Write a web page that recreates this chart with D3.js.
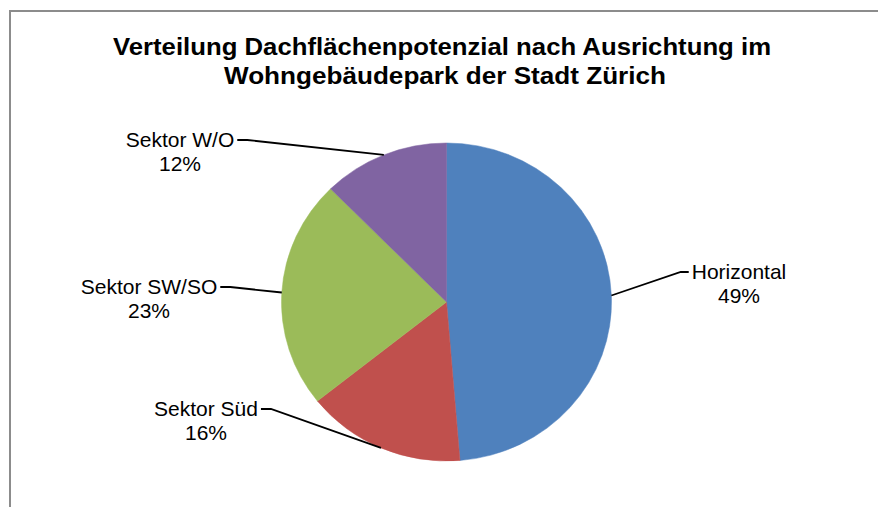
<!DOCTYPE html>
<html>
<head>
<meta charset="utf-8">
<script src="https://cdn.jsdelivr.net/npm/d3@7"></script>
<style>
  body { margin: 0; background: #fff; }
  svg { display: block; }
</style>
</head>
<body>
<div class="canvas"></div>
<script>
// data
const categories = ["Horizontal", "Sektor Süd", "Sektor SW/SO", "Sektor W/O"];
const shares = [48.7, 15.6, 23.3, 12.4];
const colors = ["#4F81BD", "#C0504D", "#9BBB59", "#8064A2"];
const titleLines = [
  "Verteilung Dachflächenpotenzial nach Ausrichtung im",
  "Wohngebäudepark der Stadt Zürich"
];

const dims = { width: 878, height: 507 };
const cent = { x: 446.5, y: 302 };
const rad = { x: 165, y: 159 };

// label anchor (centre of first text line's baseline) per slice, in px
const labelPos = [
  { x: 739, y: 279, side: "right" },
  { x: 206, y: 416, side: "left" },
  { x: 149, y: 294, side: "left" },
  { x: 180, y: 147, side: "left" }
];

const svg = d3
  .select(".canvas")
  .append("svg")
  .attr("width", dims.width)
  .attr("height", dims.height);

// chart border (right / bottom run off the picture)
svg
  .append("rect")
  .attr("x", 10)
  .attr("y", 11)
  .attr("width", dims.width + 20)
  .attr("height", dims.height + 20)
  .attr("fill", "#fff")
  .attr("stroke", "#8c8c8c")
  .attr("stroke-width", 2);

// title
const title = svg
  .append("text")
  .attr("text-anchor", "middle")
  .attr("font-family", "Liberation Sans, Arial, sans-serif")
  .attr("font-weight", "bold")
  .attr("font-size", 23)
  .attr("fill", "#000");

const titleLayout = [
  { x: 442, y: 55, len: 658 },
  { x: 445, y: 84, len: 442 }
];

titleLines.forEach((t, i) => {
  title
    .append("tspan")
    .attr("x", titleLayout[i].x)
    .attr("y", titleLayout[i].y)
    .attr("textLength", titleLayout[i].len)
    .attr("lengthAdjust", "spacingAndGlyphs")
    .text(t);
});

const pie = d3.pie().sort(null).value((d) => d);

const arcPath = d3.arc().outerRadius(rad.y).innerRadius(0);

const slices = pie(shares);

const graph = svg
  .append("g")
  .attr("transform", `translate(${cent.x}, ${cent.y}) scale(${rad.x / rad.y}, 1)`);

graph
  .selectAll("path")
  .data(slices)
  .enter()
  .append("path")
  .attr("d", arcPath)
  .attr("fill", (d, i) => colors[i])
  .attr("stroke", (d, i) => colors[i])
  .attr("stroke-width", 0.5);

// leader lines and labels
const labels = svg.append("g");

slices.forEach((d, i) => {
  const mid = (d.startAngle + d.endAngle) / 2;
  const px = cent.x + rad.x * Math.sin(mid);
  const py = cent.y - rad.y * Math.cos(mid);
  const lp = labelPos[i];
  const name = categories[i];

  const txt = labels
    .append("text")
    .attr("text-anchor", "middle")
    .attr("font-family", "Liberation Sans, Arial, sans-serif")
    .attr("font-size", 21)
    .attr("fill", "#000");
  txt.append("tspan").attr("x", lp.x).attr("y", lp.y).text(name);
  txt
    .append("tspan")
    .attr("x", lp.x)
    .attr("y", lp.y + 24)
    .text(Math.round(d.data) + "%");

  const firstW = txt.select("tspan").node().getComputedTextLength();
  const ly = lp.y - 7;
  let pts;
  if (lp.side === "right") {
    const ex = lp.x - firstW / 2 - 3;
    pts = [[px, py], [ex - 8, ly], [ex, ly]];
  } else {
    const ex = lp.x + firstW / 2 + 3;
    pts = [[ex, ly], [ex + 10, ly], [px, py]];
  }

  labels
    .append("path")
    .attr("d", d3.line()(pts))
    .attr("fill", "none")
    .attr("stroke", "#000")
    .attr("stroke-width", 1.8);
});
</script>
</body>
</html>
